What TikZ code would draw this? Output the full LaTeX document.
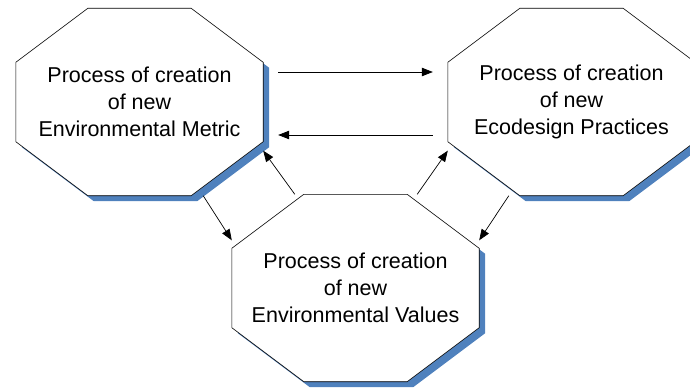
\documentclass[tikz,border=0pt]{standalone}
\usepackage{fontspec}
\setmainfont{Liberation Sans}
\usetikzlibrary{arrows.meta,shadows,backgrounds}
\definecolor{shadowblue}{RGB}{79,129,189}

% octagon round a (rectangular) process node
\newcommand{\octagon}[1]{%
  ([xshift=72pt]#1.north west) -- ([xshift=-72pt]#1.north east)
  -- ([yshift=-54pt]#1.north east) -- ([yshift=54pt]#1.south east)
  -- ([xshift=-72pt]#1.south east) -- ([xshift=72pt]#1.south west)
  -- ([yshift=54pt]#1.south west) -- ([yshift=-54pt]#1.north west) -- cycle}

\begin{document}
\begin{tikzpicture}[x=1pt, y=1pt, >={Triangle[length=11pt,width=8.5pt]},
  process/.style={inner sep=0pt, minimum width=247pt, minimum height=187pt,
    align=center, font=\fontsize{21.5}{27}\selectfont},
  octline/.style={draw=black, line width=0.6pt, fill=white,
    drop shadow={shadow xshift=6pt, shadow yshift=-5.5pt, fill=shadowblue, opacity=1}},
  link/.style={->, line width=0.7pt}]
\useasboundingbox (0,0) rectangle (690,389);

% The three processes
\node[process] (metric) at (139.5,287) {Process of creation\\of new\\Environmental Metric};
\node[process] (ecodesign) at (571.5,287) {Process of creation\\of new\\Ecodesign Practices};
\node[process] (values) at (355.5,101) {Process of creation\\of new\\Environmental Values};

% Octagons with their shadows, behind the text
\begin{scope}[on background layer]
\foreach \n in {metric,ecodesign,values}
  \draw[octline] \octagon{\n};
\end{scope}

% Links between the top two
\draw[link, shorten <=15pt, shorten >=15pt] ([yshift=30pt]metric.east) -- ([yshift=30pt]ecodesign.west);
\draw[link, shorten <=15pt, shorten >=15pt] ([yshift=-33pt]ecodesign.west) -- ([yshift=-33pt]metric.east);

% Links to and from the bottom one
\draw[link] ([xshift=63pt]values.north west) -- ([yshift=45pt]metric.south east);
\draw[link] ([xshift=-60pt]metric.south east) -- ([yshift=-46pt]values.north west);
\draw[link] ([xshift=-62pt]values.north east) -- ([yshift=45pt]ecodesign.south west);
\draw[link] ([xshift=61pt]ecodesign.south west) -- ([yshift=-46pt]values.north east);
\end{tikzpicture}
\end{document}
